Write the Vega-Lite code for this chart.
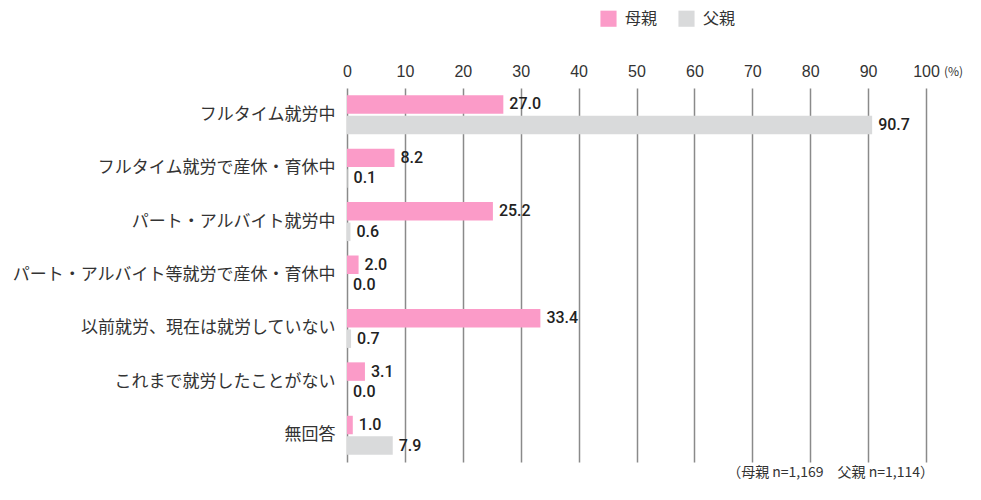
{
  "$schema": "https://vega.github.io/schema/vega-lite/v6.json",
  "width": 579,
  "height": 374,
  "autosize": {"type": "none"},
  "padding": {"left": 347, "top": 88, "right": 55, "bottom": 38},
  "background": "white",
  "config": {
    "font": "Noto Sans CJK JP",
    "view": {"stroke": null}
  },
  "title": {
    "text": "（母親 n=1,169　父親 n=1,114）",
    "orient": "bottom",
    "anchor": "end",
    "frame": "group",
    "fontSize": 14,
    "fontWeight": "normal",
    "color": "#333333",
    "offset": 4,
    "dx": 8
  },
  "data": {
    "values": [
      {"cat": "フルタイム就労中", "who": "母親", "v": 27.0},
      {"cat": "フルタイム就労中", "who": "父親", "v": 90.7},
      {"cat": "フルタイム就労で産休・育休中", "who": "母親", "v": 8.2},
      {"cat": "フルタイム就労で産休・育休中", "who": "父親", "v": 0.1},
      {"cat": "パート・アルバイト就労中", "who": "母親", "v": 25.2},
      {"cat": "パート・アルバイト就労中", "who": "父親", "v": 0.6},
      {"cat": "パート・アルバイト等就労で産休・育休中", "who": "母親", "v": 2.0},
      {"cat": "パート・アルバイト等就労で産休・育休中", "who": "父親", "v": 0.0},
      {"cat": "以前就労、現在は就労していない", "who": "母親", "v": 33.4},
      {"cat": "以前就労、現在は就労していない", "who": "父親", "v": 0.7},
      {"cat": "これまで就労したことがない", "who": "母親", "v": 3.1},
      {"cat": "これまで就労したことがない", "who": "父親", "v": 0.0},
      {"cat": "無回答", "who": "母親", "v": 1.0},
      {"cat": "無回答", "who": "父親", "v": 7.9}
    ]
  },
  "encoding": {
    "y": {
      "field": "cat",
      "type": "nominal",
      "sort": null,
      "scale": {"paddingInner": 0.27, "paddingOuter": 0.135},
      "axis": {
        "title": null,
        "domain": false,
        "ticks": false,
        "labelFontSize": 17,
        "labelColor": "#333333",
        "labelPadding": 12,
        "labelLimit": 400
      }
    },
    "yOffset": {
      "field": "who",
      "type": "nominal",
      "sort": ["母親", "父親"],
      "scale": {"paddingInner": 0.1}
    },
    "x": {
      "field": "v",
      "type": "quantitative",
      "scale": {"domain": [0, 100], "nice": false},
      "axis": {
        "orient": "top",
        "values": [0, 10, 20, 30, 40, 50, 60, 70, 80, 90, 100],
        "domain": false,
        "ticks": false,
        "grid": true,
        "gridColor": "#8a8a8a",
        "gridWidth": 1.5,
        "labelFlush": false,
        "labelFontSize": 16,
        "labelColor": "#333333",
        "labelPadding": 9,
        "labelFont": "Liberation Sans",
        "title": "(%)",
        "titleFontSize": 12,
        "titleFontWeight": "normal",
        "titleColor": "#333333",
        "titleAngle": 0,
        "titleX": 606,
        "titleY": -17,
        "titleAlign": "center",
        "titleBaseline": "middle"
      }
    }
  },
  "layer": [
    {
      "mark": {"type": "bar"},
      "encoding": {
        "color": {
          "field": "who",
          "type": "nominal",
          "sort": ["母親", "父親"],
          "scale": {"domain": ["母親", "父親"], "range": ["#fb9bc8", "#d9dadb"]},
          "legend": {
            "title": null,
            "orient": "none",
            "direction": "horizontal",
            "legendX": 253,
            "legendY": -78,
            "symbolType": "square",
            "symbolSize": 260,
            "symbolStrokeWidth": 0,
            "labelFontSize": 16,
            "labelColor": "#333333",
            "columnPadding": 20,
            "labelOffset": 8
          }
        }
      }
    },
    {
      "mark": {
        "type": "text",
        "align": "left",
        "baseline": "middle",
        "dx": 6,
        "fontSize": 16,
        "fontWeight": 500,
        "font": "Roboto",
        "color": "#222222"
      },
      "encoding": {
        "text": {"field": "v", "type": "quantitative", "format": ".1f"}
      }
    }
  ]
}
